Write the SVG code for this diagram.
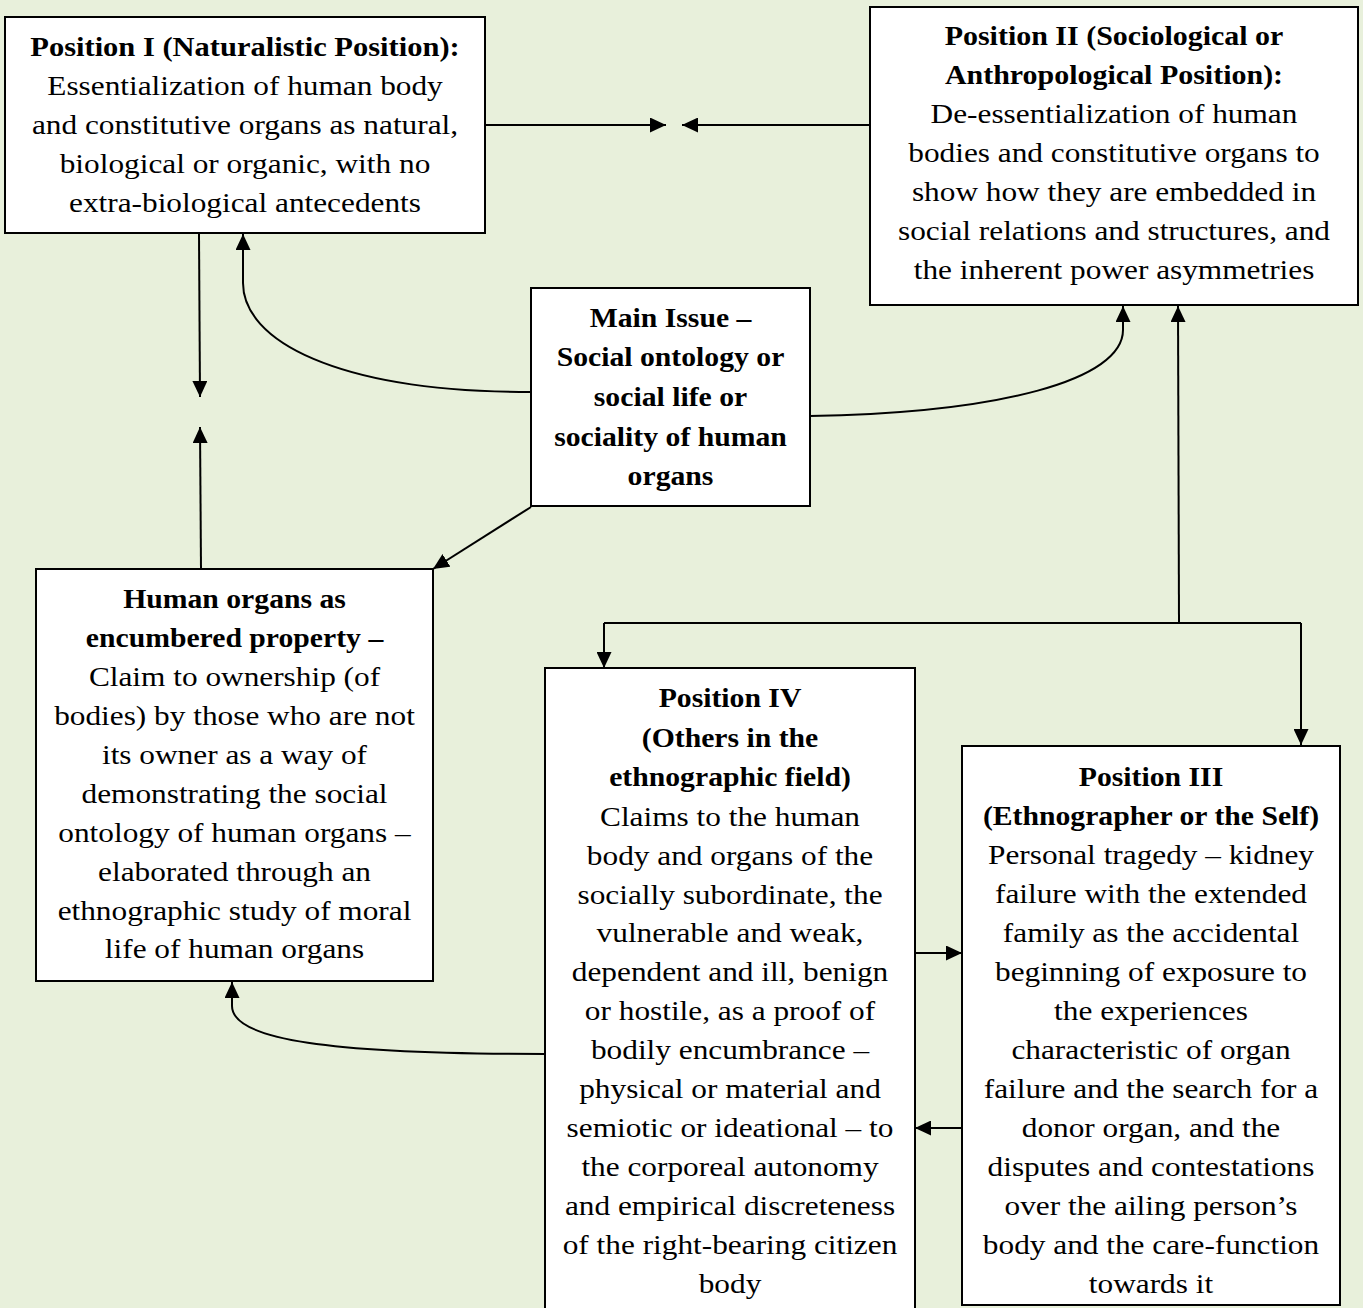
<svg xmlns="http://www.w3.org/2000/svg" width="1363" height="1308" viewBox="0 0 1363 1308">
  <style>
    .box { fill: #ffffff; stroke: #000000; stroke-width: 2; }
    .wire { fill: none; stroke: #000000; stroke-width: 2; }
    .arrow { marker-end: url(#head); }
    text { font-family: "Liberation Serif", "Times New Roman", serif; font-size: 27px; fill: #000000; text-anchor: middle; }
    .b { font-weight: bold; }
  </style>
  <defs>
    <marker id="head" markerUnits="userSpaceOnUse" markerWidth="16" markerHeight="15" refX="16" refY="7.5" orient="auto">
      <path d="M0,0 L16,7.5 L0,15 z" fill="#000000"/>
    </marker>
  </defs>

  <rect width="1363" height="1308" fill="#E8F0DB"/>

  <!-- connectors -->
  <g id="connectors">
    <path class="wire arrow" d="M485,125 L666,125"/>
    <path class="wire arrow" d="M870,125 L682,125"/>
    <path class="wire arrow" d="M199,234 L200,397"/>
    <path class="wire arrow" d="M201,569 L200,427"/>
    <path class="wire arrow" d="M531,392 C335,392 243,340 243,283 L243,234"/>
    <path class="wire arrow" d="M531,507 L433,569"/>
    <path class="wire arrow" d="M810,416 C1000,413 1123,380 1123,330 L1123,306"/>
    <path class="wire arrow" d="M1179,623 L1178,306"/>
    <path class="wire" d="M604,623 L1301,623"/>
    <path class="wire arrow" d="M604,623 L604,668"/>
    <path class="wire arrow" d="M1301,623 L1301,745"/>
    <path class="wire arrow" d="M915,953 L962,953"/>
    <path class="wire arrow" d="M962,1128 L915,1128"/>
    <path class="wire arrow" d="M545,1054 C330,1054 232,1040 232,1006 L232,982"/>
  </g>

  <!-- Position I -->
  <g id="position-1">
    <rect class="box" x="5" y="17" width="480" height="216"/>
    <g transform="translate(245 0)">
      <g transform="scale(1.13 1)">
        <text class="b" x="0" y="56">Position I (Naturalistic Position):</text>
      </g>
      <g transform="scale(1.16 1)">
        <text x="0" y="95">Essentialization of human body</text>
        <text x="0" y="134">and constitutive organs as natural,</text>
        <text x="0" y="173">biological or organic, with no</text>
        <text x="0" y="212">extra-biological antecedents</text>
      </g>
    </g>
  </g>

  <!-- Position II -->
  <g id="position-2">
    <rect class="box" x="870" y="7" width="488" height="298"/>
    <g transform="translate(1114 0)">
      <g transform="scale(1.11 1)">
        <text class="b" x="0" y="45">Position II (Sociological or</text>
        <text class="b" x="0" y="84">Anthropological Position):</text>
      </g>
      <g transform="scale(1.16 1)">
        <text x="0" y="123">De-essentialization of human</text>
        <text x="0" y="162">bodies and constitutive organs to</text>
        <text x="0" y="201">show how they are embedded in</text>
        <text x="0" y="240">social relations and structures, and</text>
        <text x="0" y="279">the inherent power asymmetries</text>
      </g>
    </g>
  </g>

  <!-- Main issue -->
  <g id="main-issue">
    <rect class="box" x="531" y="288" width="279" height="218"/>
    <g transform="translate(670.5 0) scale(1.1 1)">
      <text class="b" x="0" y="327">Main Issue –</text>
      <text class="b" x="0" y="366">Social ontology or</text>
      <text class="b" x="0" y="406">social life or</text>
      <text class="b" x="0" y="446">sociality of human</text>
      <text class="b" x="0" y="485">organs</text>
    </g>
  </g>

  <!-- Human organs as encumbered property -->
  <g id="encumbered-property">
    <rect class="box" x="36" y="569" width="397" height="412"/>
    <g transform="translate(234.5 0)">
      <g transform="scale(1.1 1)">
        <text class="b" x="0" y="608">Human organs as</text>
        <text class="b" x="0" y="647">encumbered property –</text>
      </g>
      <g transform="scale(1.16 1)">
        <text x="0" y="686">Claim to ownership (of</text>
        <text x="0" y="725">bodies) by those who are not</text>
        <text x="0" y="764">its owner as a way of</text>
        <text x="0" y="803">demonstrating the social</text>
        <text x="0" y="842">ontology of human organs –</text>
        <text x="0" y="881">elaborated through an</text>
        <text x="0" y="920">ethnographic study of moral</text>
        <text x="0" y="958">life of human organs</text>
      </g>
    </g>
  </g>

  <!-- Position IV -->
  <g id="position-4">
    <rect class="box" x="545" y="668" width="370" height="660"/>
    <g transform="translate(730 0)">
      <g transform="scale(1.1 1)">
        <text class="b" x="0" y="707">Position IV</text>
        <text class="b" x="0" y="747">(Others in the</text>
        <text class="b" x="0" y="786">ethnographic field)</text>
      </g>
      <g transform="scale(1.16 1)">
        <text x="0" y="826">Claims to the human</text>
        <text x="0" y="865">body and organs of the</text>
        <text x="0" y="904">socially subordinate, the</text>
        <text x="0" y="942">vulnerable and weak,</text>
        <text x="0" y="981">dependent and ill, benign</text>
        <text x="0" y="1020">or hostile, as a proof of</text>
        <text x="0" y="1059">bodily encumbrance –</text>
        <text x="0" y="1098">physical or material and</text>
        <text x="0" y="1137">semiotic or ideational – to</text>
        <text x="0" y="1176">the corporeal autonomy</text>
        <text x="0" y="1215">and empirical discreteness</text>
        <text x="0" y="1254">of the right-bearing citizen</text>
        <text x="0" y="1293">body</text>
      </g>
    </g>
  </g>

  <!-- Position III -->
  <g id="position-3">
    <rect class="box" x="962" y="746" width="378" height="559"/>
    <g transform="translate(1151 0)">
      <g transform="scale(1.1 1)">
        <text class="b" x="0" y="786">Position III</text>
        <text class="b" x="0" y="825">(Ethnographer or the Self)</text>
      </g>
      <g transform="scale(1.16 1)">
        <text x="0" y="864">Personal tragedy – kidney</text>
        <text x="0" y="903">failure with the extended</text>
        <text x="0" y="942">family as the accidental</text>
        <text x="0" y="981">beginning of exposure to</text>
        <text x="0" y="1020">the experiences</text>
        <text x="0" y="1059">characteristic of organ</text>
        <text x="0" y="1098">failure and the search for a</text>
        <text x="0" y="1137">donor organ, and the</text>
        <text x="0" y="1176">disputes and contestations</text>
        <text x="0" y="1215">over the ailing person’s</text>
        <text x="0" y="1254">body and the care-function</text>
        <text x="0" y="1293">towards it</text>
      </g>
    </g>
  </g>
</svg>
